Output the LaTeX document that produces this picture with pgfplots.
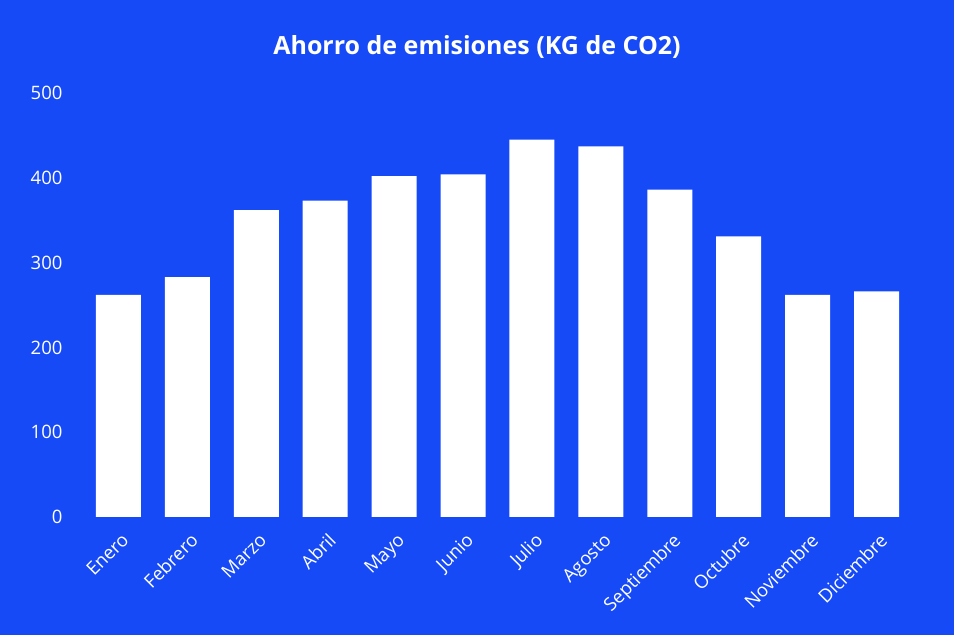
\documentclass[border=0pt]{standalone}
\usepackage{pgfplots}
\pgfplotsset{compat=1.18}
\usepackage{fontspec}
\setmainfont{Open Sans}
\definecolor{bg}{RGB}{22,74,247}
\begin{document}
\begin{tikzpicture}
\fill[bg] (0,0) rectangle (954pt,635pt);
\node[text=white,font=\fontsize{25}{30}\selectfont\bfseries] at (477pt,588pt) {Ahorro de emisiones (KG de CO2)};
\begin{axis}[
  at={(84pt,118pt)}, anchor=south west,
  scale only axis, width=827pt, height=424pt,
  xmin=-0.5, xmax=11.5, ymin=0, ymax=500,
  axis line style={draw=none}, tick style={draw=none},
  ytick={0,100,...,500},
  xtick=data,
  xticklabels={Enero,Febrero,Marzo,Abril,Mayo,Junio,Julio,Agosto,Septiembre,Octubre,Noviembre,Diciembre},
  x tick label style={xshift=2pt, yshift=-9pt, rotate=45, anchor=north east, font=\fontsize{18.5}{22}\selectfont, text=white, inner sep=1pt},
  y tick label style={font=\fontsize{18.5}{22}\selectfont, text=white},
  /pgf/number format/assume math mode=true,
  yticklabel style={xshift=-18pt},
  ybar, bar width=45pt,
]
\addplot[fill=white, draw=none] coordinates {
(0,262) (1,283) (2,362) (3,373) (4,402) (5,404) (6,445) (7,437) (8,386) (9,331) (10,262) (11,266)
};
\end{axis}
\end{tikzpicture}
\end{document}
